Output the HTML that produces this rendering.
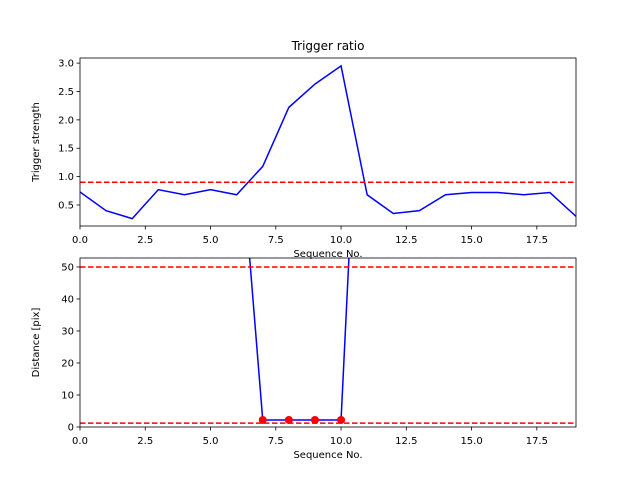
<!DOCTYPE html>
<html><head><meta charset="utf-8"><style>
body{margin:0;background:#fff;font-family:"DejaVu Sans","Liberation Sans",sans-serif}
svg text{font-family:"DejaVu Sans","Liberation Sans",sans-serif}
</style></head><body>
<svg id="c" width="640" height="480"></svg>
<script>
const xTicks=[0,2.5,5,7.5,10,12.5,15,17.5];
const xTickLabels=["0.0","2.5","5.0","7.5","10.0","12.5","15.0","17.5"];
const topX=[0,1,2,3,4,5,6,7,8,9,10,11,12,13,14,15,16,17,18,19];
const topY=[0.73,0.40,0.26,0.77,0.68,0.77,0.68,1.18,2.22,2.63,2.95,0.68,0.35,0.40,0.68,0.72,0.72,0.68,0.72,0.30];
const topThreshold=[0.9];
const topYTicks=[0.5,1.0,1.5,2.0,2.5,3.0];
const topYTickLabels=["0.5","1.0","1.5","2.0","2.5","3.0"];
const botX=[6,7,8,9,10,11];
const botY=[103,2.2,2.2,2.2,2.2,170];
const dotX=[7,8,9,10];
const dotY=[2.2,2.2,2.2,2.2];
const botThresholds=[50,1.2];
const botYTicks=[0,10,20,30,40,50];
const botYTickLabels=["0","10","20","30","40","50"];

const svg=document.getElementById('c');
const NS='http://www.w3.org/2000/svg';
function mk(t,a,p){const e=document.createElementNS(NS,t);for(const k in a)e.setAttribute(k,a[k]);(p||svg).appendChild(e);return e;}
function panel(name,top,bottom,ymin,ymax,yt,ytl,ylabel,title){
  const L=80,R=576;
  const xs=v=>L+(v-0)/(19-0)*(R-L);
  const ys=v=>bottom-(v-ymin)/(ymax-ymin)*(bottom-top);
  const g=mk('g',{});
  const cid='clip'+name;
  const cp=mk('clipPath',{id:cid},g);mk('rect',{x:L,y:top,width:R-L,height:bottom-top},cp);
  xTicks.forEach((v,i)=>{const x=xs(v);mk('line',{x1:x,x2:x,y1:bottom,y2:bottom+3.5,stroke:'#000','stroke-width':0.8},g);
    const t=mk('text',{x:x,y:bottom+17,'font-size':10,'text-anchor':'middle'},g);t.textContent=xTickLabels[i];
    });
  yt.forEach((v,i)=>{const y=ys(v);mk('line',{x1:L-3.5,x2:L,y1:y,y2:y,stroke:'#000','stroke-width':0.8},g);
    const t=mk('text',{x:L-6,y:y+3.5,'font-size':10,'text-anchor':'end'},g);t.textContent=ytl[i];
    });
  const yl=mk('text',{x:0,y:0,'font-size':10,'text-anchor':'middle',transform:`translate(${L-41},${(top+bottom)/2}) rotate(-90)`},g);yl.textContent=ylabel;
  
  const xl=mk('text',{x:(L+R)/2,y:bottom+31,'font-size':10,'text-anchor':'middle'},g);xl.textContent='Sequence No.';
  
  if(title){const tt=mk('text',{x:(L+R)/2,y:top-8,'font-size':12,'text-anchor':'middle'},g);tt.textContent=title;
    }
  const pg=mk('g',{'clip-path':`url(#${cid})`},g);
  return {g,pg,xs,ys,L,R,top,bottom};
}
function frame(p){const r=mk('rect',{x:p.L,y:p.top,width:p.R-p.L,height:p.bottom-p.top,fill:'none',stroke:'#000','stroke-width':0.8},p.g);
  }
function hline(p,v,name){const l=mk('line',{x1:p.L,x2:p.R,y1:p.ys(v),y2:p.ys(v),stroke:'red','stroke-width':1.5,'stroke-dasharray':'5.5,2.5'},p.pg);
  }
function line(p,X,Y,name){const pts=X.map((x,i)=>p.xs(x)+','+p.ys(Y[i])).join(' ');
  const l=mk('polyline',{points:pts,fill:'none',stroke:'blue','stroke-width':1.5},p.pg);
  }

const p1=panel('top',58,226,0.13,3.09,topYTicks,topYTickLabels,'Trigger strength','Trigger ratio');
line(p1,topX,topY,'trigger-strength-line');
topThreshold.forEach(v=>hline(p1,v,'threshold-line'));
frame(p1);

const p2=panel('bottom',258,427,0,52.8,botYTicks,botYTickLabels,'Distance [pix]',null);
line(p2,botX,botY,'distance-line');
botThresholds.forEach(v=>hline(p2,v,'distance-threshold-line'));
dotX.forEach((x,i)=>{const c=mk('circle',{cx:p2.xs(x),cy:p2.ys(dotY[i]),r:4,fill:'red'},p2.g);
  });
frame(p2);
</script>
</body></html>
